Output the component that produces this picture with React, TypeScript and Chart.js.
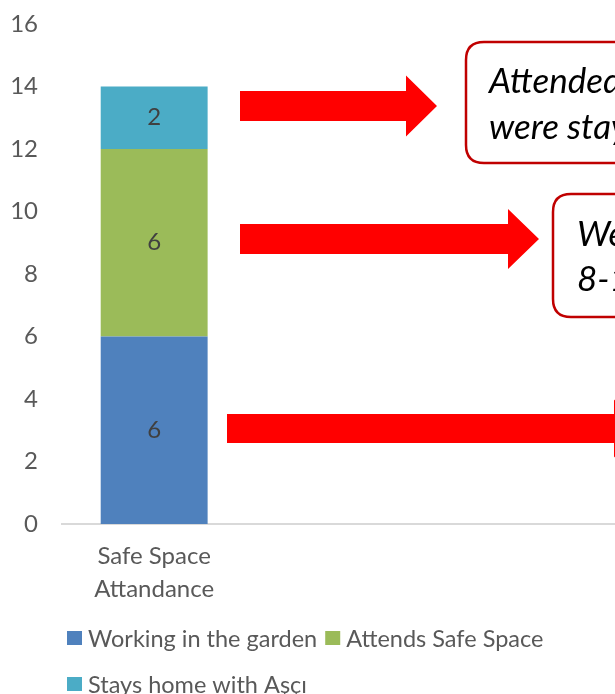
import React, { useEffect, useRef } from "react";
import { Chart, registerables } from "chart.js";

Chart.register(...registerables);

// ---- data ----
const categories: (string | string[])[] = [["Safe Space", "Attandance"], "", ""];
const seriesNames = ["Working in the garden", "Attends Safe Space", "Stays home with Aşçı"];
const workingInGarden = [6, null, null];
const attendsSafeSpace = [6, null, null];
const staysHomeWithAsci = [2, null, null];
const yMin = 0;
const yMax = 16;
const yStep = 2;

const calloutTexts = [
  ["Attended Safe Space when they", "were staying home with Aşçı"],
  ["Went to Safe Space with the", "8-12 year old children"],
];

// ---- styles ----
const seriesColors = ["#4F81BD", "#9BBB59", "#4BACC6"];
const FONT = "Lato, 'Open Sans', sans-serif";
const TEXT_GRAY = "#595959";

const dataLabelPlugin = {
  id: "dataLabels",
  afterDatasetsDraw(chart: any) {
    const ctx = chart.ctx;
    ctx.save();
    ctx.font = `24px ${FONT}`;
    ctx.fillStyle = "#404040";
    ctx.textAlign = "center";
    ctx.textBaseline = "middle";
    chart.data.datasets.forEach((ds: any, i: number) => {
      const meta = chart.getDatasetMeta(i);
      meta.data.forEach((el: any, j: number) => {
        const v = ds.data[j];
        if (v === null || v === undefined) return;
        ctx.fillText(String(v), el.x, (el.y + el.base) / 2);
      });
    });
    ctx.restore();
  },
};

const legendPlugin = {
  id: "customLegend",
  afterDraw(chart: any) {
    const ctx = chart.ctx;
    ctx.save();
    ctx.font = `23.5px ${FONT}`;
    ctx.textBaseline = "middle";
    ctx.textAlign = "left";
    let x = 67;
    let y = 638;
    const box = 14;
    chart.data.datasets.forEach((ds: any) => {
      const tw = ctx.measureText(ds.label).width;
      const w = box + 8 + tw;
      if (x + w > chart.width - 10 && x > 67) {
        x = 67;
        y += 46;
      }
      ctx.fillStyle = ds.backgroundColor;
      ctx.fillRect(x, y - box / 2, box + 1, box);
      ctx.fillStyle = TEXT_GRAY;
      ctx.fillText(ds.label, x + box + 7, y + 1);
      x += w + 7;
    });
    ctx.restore();
  },
};

function roundRect(ctx: CanvasRenderingContext2D, x: number, y: number, w: number, h: number, r: number) {
  ctx.beginPath();
  ctx.moveTo(x + r, y);
  ctx.lineTo(x + w - r, y);
  ctx.quadraticCurveTo(x + w, y, x + w, y + r);
  ctx.lineTo(x + w, y + h - r);
  ctx.quadraticCurveTo(x + w, y + h, x + w - r, y + h);
  ctx.lineTo(x + r, y + h);
  ctx.quadraticCurveTo(x, y + h, x, y + h - r);
  ctx.lineTo(x, y + r);
  ctx.quadraticCurveTo(x, y, x + r, y);
  ctx.closePath();
}

function arrow(ctx: CanvasRenderingContext2D, x0: number, x1: number, cy: number, shaftH: number, headL: number, headH: number) {
  ctx.beginPath();
  ctx.moveTo(x0, cy - shaftH / 2);
  ctx.lineTo(x1, cy - shaftH / 2);
  ctx.lineTo(x1, cy - headH / 2);
  ctx.lineTo(x1 + headL, cy);
  ctx.lineTo(x1, cy + headH / 2);
  ctx.lineTo(x1, cy + shaftH / 2);
  ctx.lineTo(x0, cy + shaftH / 2);
  ctx.closePath();
  ctx.fill();
}

const annotationPlugin = {
  id: "annotations",
  afterDraw(chart: any) {
    const ctx = chart.ctx as CanvasRenderingContext2D;
    ctx.save();
    ctx.fillStyle = "#FF0000";
    arrow(ctx, 240, 406, 106, 30, 31, 61);
    arrow(ctx, 240, 508, 239, 30, 31, 60);
    arrow(ctx, 227, 614, 428.5, 29, 31, 58);

    const boxes = [
      { x: 466, y: 42, h: 121, tx: 489, l1: 82, l2: 128, lines: calloutTexts[0] },
      { x: 553, y: 194, h: 123, tx: 577, l1: 235, l2: 280, lines: calloutTexts[1] },
    ];
    boxes.forEach((b) => {
      roundRect(ctx, b.x, b.y, 400, b.h, 18);
      ctx.fillStyle = "#FFFFFF";
      ctx.fill();
      ctx.lineWidth = 2.5;
      ctx.strokeStyle = "#C00000";
      ctx.stroke();
      ctx.fillStyle = "#000000";
      ctx.font = `italic 35px ${FONT}`;
      ctx.textAlign = "left";
      ctx.textBaseline = "middle";
      ctx.fillText(b.lines[0], b.tx, b.l1);
      ctx.fillText(b.lines[1], b.tx, b.l2);
    });
    ctx.restore();
  },
};

export default function App() {
  const ref = useRef<HTMLCanvasElement | null>(null);
  useEffect(() => {
    if (!ref.current) return;
    const chart = new Chart(ref.current, {
      type: "bar",
      data: {
        labels: categories,
        datasets: [
          { label: seriesNames[0], data: workingInGarden, backgroundColor: seriesColors[0] },
          { label: seriesNames[1], data: attendsSafeSpace, backgroundColor: seriesColors[1] },
          { label: seriesNames[2], data: staysHomeWithAsci, backgroundColor: seriesColors[2] },
        ],
      },
      options: {
        responsive: false,
        animation: false,
        devicePixelRatio: 1,
        layout: { autoPadding: false, padding: { top: 24, left: 0, right: 0, bottom: 0 } } as any,
        datasets: { bar: { barPercentage: 0.58, categoryPercentage: 1 } } as any,
        plugins: { legend: { display: false }, tooltip: { enabled: false } },
        scales: {
          x: {
            stacked: true,
            grid: { display: false, drawTicks: false },
            border: { display: true, color: "#D9D9D9", width: 2 },
            ticks: {
              color: TEXT_GRAY,
              font: { family: FONT, size: 24, lineHeight: 1.38 },
              padding: 16,
              maxRotation: 0,
              autoSkip: false,
            },
            afterFit: (s: any) => {
              s.height = 170;
              s.paddingLeft = 0;
              s.paddingRight = 0;
            },
          },
          y: {
            stacked: true,
            min: yMin,
            max: yMax,
            grid: { display: false, drawTicks: false },
            border: { display: false },
            ticks: {
              stepSize: yStep,
              color: TEXT_GRAY,
              font: { family: FONT, size: 24 },
              padding: 24,
            },
            afterFit: (s: any) => {
              s.width = 62;
              s.paddingTop = 0;
              s.paddingBottom = 0;
            },
          },
        },
      },
      plugins: [dataLabelPlugin, legendPlugin, annotationPlugin],
    });
    return () => chart.destroy();
  }, []);
  return (
    <div style={{ position: "fixed", left: 0, top: 0, width: 615, height: 694, overflow: "hidden", background: "#fff" }}>
      <canvas ref={ref} width={615} height={694} style={{ display: "block" }} />
    </div>
  );
}
